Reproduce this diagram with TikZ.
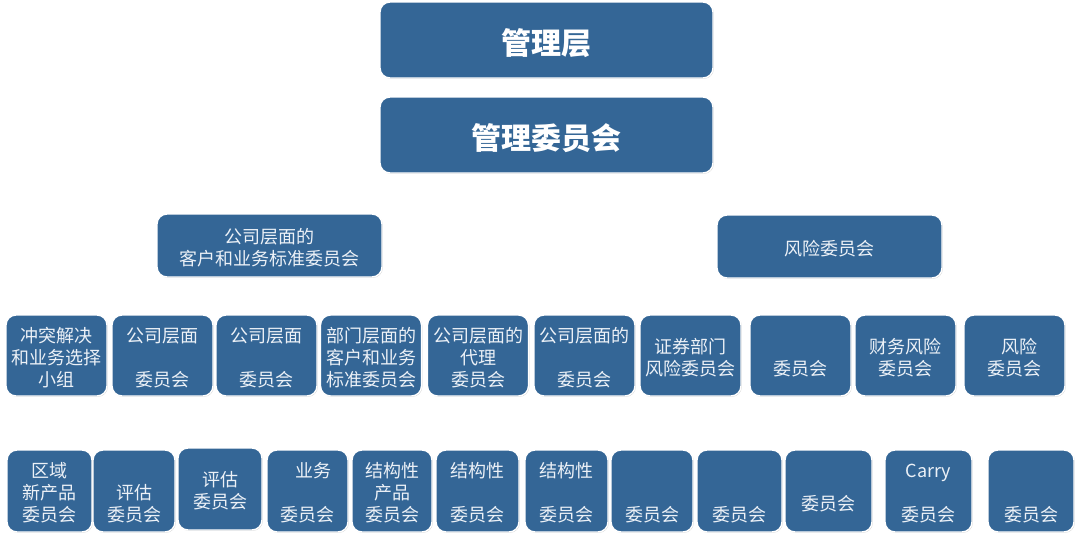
\documentclass[tikz,border=0pt]{standalone}
\usepackage{fontspec}
\setmainfont{Noto Sans CJK SC}
\usetikzlibrary{shadows}

\definecolor{boxblue}{RGB}{52,102,150}
\definecolor{boxtext}{RGB}{236,241,247}
\newcommand{\boxstrut}{\rule[-1pt]{0pt}{20pt}}

\begin{document}
\begin{tikzpicture}[x=1pt, y=-1pt,
		box/.style={draw=white, line width=1.4pt, fill=boxblue, rounded corners=10pt,
			drop shadow={opacity=0.35, shadow xshift=0.8pt, shadow yshift=-0.8pt},
			text=boxtext, align=center, inner sep=0pt,
			font=\fontsize{18}{22}\selectfont},
		topbox/.style={box, minimum width=333pt, minimum height=76pt, text=white,
			font=\fontsize{30}{36}\selectfont\bfseries, text height=29pt, text depth=0pt},
		midbox/.style={box, minimum width=225pt, minimum height=63pt},
		subbox/.style={box, minimum width=101pt, minimum height=81pt},
		leafbox/.style={box, minimum height=82pt}]
		\fill[white] (0,0) rectangle (1080,536);
		\useasboundingbox (0,0) rectangle (1080,536);
		%管理层
		\node[topbox] (board) at (546.5, 40) {管理层};
		\node[topbox] (mgmt) at (546.5, 135) {管理委员会};
		%委员会
		\node[midbox] (corp) at (269.5, 245.5) {\boxstrut{}公司层面的\\客户和业务标准委员会\boxstrut};
		\node[midbox] (risk) at (829.5, 246.5) {\boxstrut{}风险委员会\boxstrut};
		%下属委员会
		\node[subbox] (conflict) at (56.5, 355.5) {\boxstrut{}冲突解决\\和业务选择\\小组\boxstrut};
		\node[subbox] (corpA) at (162.5, 355.5) {\boxstrut{}公司层面\\~\\委员会\boxstrut};
		\node[subbox] (corpB) at (266.5, 355.5) {\boxstrut{}公司层面\\~\\委员会\boxstrut};
		\node[subbox] (dept) at (371, 355.5) {\boxstrut{}部门层面的\\客户和业务\\标准委员会\boxstrut};
		\node[subbox] (agent) at (478, 355.5) {\boxstrut{}公司层面的\\代理\\委员会\boxstrut};
		\node[subbox] (corpC) at (584.5, 355.5) {\boxstrut{}公司层面的\\~\\委员会\boxstrut};
		\node[subbox] (secrisk) at (690.5, 355.5) {\boxstrut{}证券部门\\风险委员会\boxstrut};
		\node[subbox] (riskA) at (800.5, 355.5) {\boxstrut\\委员会\boxstrut};
		\node[subbox] (finrisk) at (905.5, 355.5) {\boxstrut{}财务风险\\委员会\boxstrut};
		\node[subbox] (riskB) at (1014.5, 355.5) {\boxstrut\hspace{10pt}风险\\委员会\boxstrut};
		%最下层
		\node[leafbox, minimum width=85pt] (region) at (49.5, 491) {\boxstrut{}区域\\新产品\\委员会\boxstrut};
		\node[leafbox, minimum width=82pt] (evalA) at (134, 491) {\boxstrut\\评估\\委员会\boxstrut};
		\node[leafbox, minimum width=84pt] (evalB) at (220, 489) {\boxstrut{}评估\\委员会\boxstrut};
		\node[leafbox, minimum width=81pt] (biz) at (307.5, 491) {\boxstrut\hspace{12pt}业务\\~\\委员会\boxstrut};
		\node[leafbox, minimum width=80pt] (structA) at (392, 491) {\boxstrut{}结构性\\产品\\委员会\boxstrut};
		\node[leafbox, minimum width=83pt] (structB) at (477.5, 491) {\boxstrut{}结构性\\~\\委员会\boxstrut};
		\node[leafbox, minimum width=83pt] (structC) at (566.5, 491) {\boxstrut{}结构性\\~\\委员会\boxstrut};
		\node[leafbox, minimum width=82pt] (leafA) at (652, 491) {\boxstrut\\~\\委员会\boxstrut};
		\node[leafbox, minimum width=85pt] (leafB) at (739.5, 491) {\boxstrut\\~\\委员会\boxstrut};
		\node[leafbox, minimum width=87pt] (leafC) at (828.5, 491) {\boxstrut\\委员会\boxstrut};
		\node[leafbox, minimum width=87pt] (carry) at (928.5, 491) {\boxstrut{}Carry\\~\\委员会\boxstrut};
		\node[leafbox, minimum width=86pt] (leafD) at (1031, 491) {\boxstrut\\~\\委员会\boxstrut};
	\end{tikzpicture}
\end{document}
